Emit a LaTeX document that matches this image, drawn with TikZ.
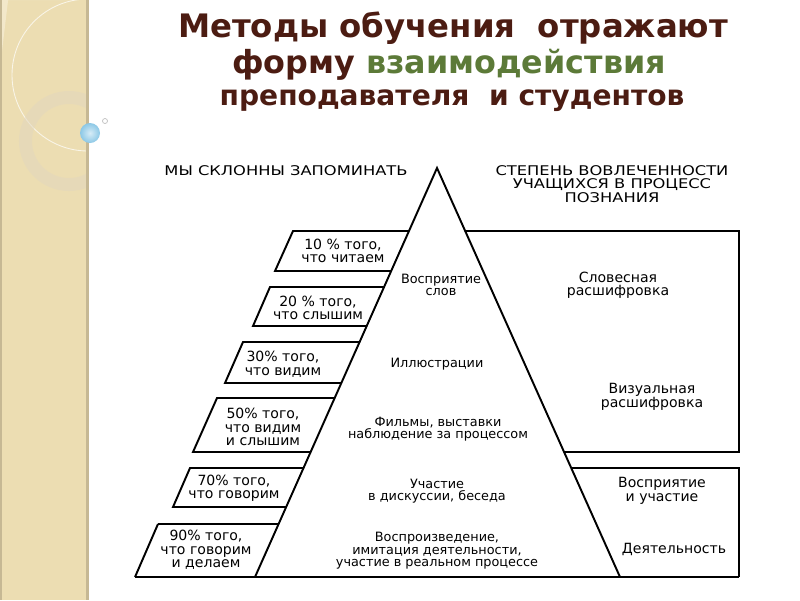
\documentclass[tikz,border=0pt]{standalone}
\usepackage{fontspec}
\setmainfont{DejaVu Sans}
\usepackage{graphicx}
\usepackage{xcolor}
\usepackage{tikz}

\definecolor{stripbg}{RGB}{236,221,178}
\definecolor{striplight}{RGB}{243,232,202}
\definecolor{stripedge}{RGB}{198,184,148}
\definecolor{ringcol}{RGB}{226,215,190}
\definecolor{titlebrown}{RGB}{76,28,18}
\definecolor{titlegreen}{RGB}{92,122,56}
\definecolor{bubblecol}{RGB}{140,200,230}

\newcommand\widecaps[1]{\scalebox{1.22}[1]{#1}}

\begin{document}
\begin{tikzpicture}[x=0.02cm,y=-0.02cm,
    edge/.style={line width=1.1pt},
    boxtext/.style={align=center,inner sep=0pt,font=\fontsize{8}{7.7}\selectfont},
    pyrtext/.style={align=center,inner sep=0pt,font=\fontsize{7.3}{7.1}\selectfont},
    headtext/.style={align=center,inner sep=0pt,font=\fontsize{7.6}{7.5}\selectfont},
    titletext/.style={inner sep=0pt,text=titlebrown,font=\bfseries}]
    \useasboundingbox (0,0) rectangle (800,600);
    \fill[white] (0,0) rectangle (800,600);

    % left strip
    \fill[stripbg] (0,0) rectangle (88,600);
    \begin{scope}
        \clip (0,0) rectangle (88,600);
        \fill[striplight] (0,0) -- (72,0) arc[start angle=105,end angle=185,radius=74] -- (0,68) -- cycle;
        \draw[white!70!stripbg,line width=0.5pt] (88,75) circle[radius=76];
        \draw[ringcol,line width=7.4pt,opacity=0.55] (69,141) circle[radius=43.5];
    \end{scope}
    \fill[stripedge] (86,0) rectangle (89,600);
    \fill[stripedge] (0,0) rectangle (1.5,600);
    \shade[inner color=bubblecol!35!white,outer color=bubblecol] (90,133) circle[radius=10];
    \draw[gray!50,line width=0.4pt] (105,121) circle[radius=2.5];

    % title
    \node[titletext,font=\fontsize{18.4}{20}\selectfont\bfseries] (title1) at (453,28) {Методы обучения~~отражают};
    \node[titletext,font=\fontsize{18.1}{20}\selectfont\bfseries] (title2) at (449,65) {форму \textcolor{titlegreen}{взаимодействия}};
    \node[titletext,font=\fontsize{16}{18}\selectfont\bfseries] (title3) at (452,101) {преподавателя~~и студентов};

    % headers
    \node[headtext] (headl) at (286,171) {\widecaps{МЫ СКЛОННЫ ЗАПОМИНАТЬ}};
    \node[headtext] (headr) at (612,184) {\widecaps{СТЕПЕНЬ ВОВЛЕЧЕННОСТИ}\\\widecaps{УЧАЩИХСЯ В ПРОЦЕСС}\\\widecaps{ПОЗНАНИЯ}};

    % pyramid
    \draw[edge] (255,577) -- (437,168) -- (620,577);
    \draw[edge] (135,577) -- (739,577);

    % left boxes
    \draw[edge] (391,271) -- (275,271) -- (293,231) -- (409,231);
    \draw[edge] (367,326) -- (253,326) -- (270,287) -- (384,287);
    \draw[edge] (341,383) -- (225,383) -- (243,342) -- (360,342);
    \draw[edge] (311,452) -- (193,452) -- (217,398) -- (335,398);
    \draw[edge] (286,507) -- (173,507) -- (190,468) -- (304,468);
    \draw[edge] (158,524) -- (279,524);
    \draw[edge] (135,577) -- (158,524);

    % right boxes
    \draw[edge] (465,231) -- (739,231) -- (739,452) -- (564,452);
    \draw[edge] (571,468) -- (739,468) -- (739,577);

    % left texts
    \node[boxtext] (mem10) at (343,251) {10 \% того,\\что читаем};
    \node[boxtext] (mem20) at (318,308) {20 \% того,\\что слышим};
    \node[boxtext] (mem30) at (283,364) {30\% того,\\что видим};
    \node[boxtext] (mem50) at (263,427) {50\% того,\\что видим\\и слышим};
    \node[boxtext] (mem70) at (234,488) {70\% того,\\что говорим};
    \node[boxtext] (mem90) at (206,550) {90\% того,\\что говорим\\и делаем};

    % pyramid texts
    \node[pyrtext] (words) at (441,285) {Восприятие\\слов};
    \node[pyrtext] (illus) at (437,364) {Иллюстрации};
    \node[pyrtext] (films) at (438,429) {Фильмы, выставки\\наблюдение за процессом};
    \node[pyrtext] (talk) at (437,491) {Участие\\в дискуссии, беседа};
    \node[pyrtext] (act) at (437,551) {Воспроизведение,\\имитация деятельности,\\участие в реальном процессе};

    % right texts
    \node[boxtext] (verbal) at (618,285) {Словесная\\расшифровка};
    \node[boxtext] (visual) at (652,397) {Визуальная\\расшифровка};
    \node[boxtext] (part) at (662,491) {Восприятие\\и участие};
    \node[boxtext] (deed) at (674,549) {Деятельность};
\end{tikzpicture}
\end{document}
